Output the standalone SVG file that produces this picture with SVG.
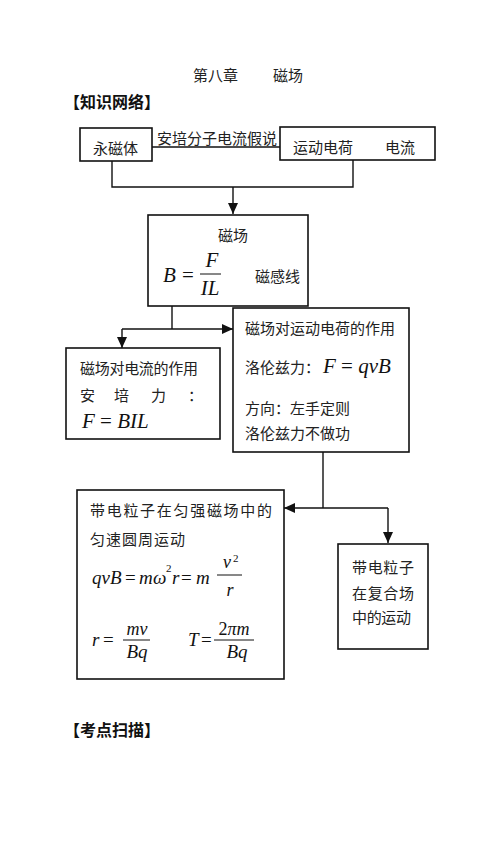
<svg xmlns="http://www.w3.org/2000/svg" width="500" height="857" viewBox="0 0 500 857">
<style>
.bg{fill:#fff}
.box{fill:#fff;stroke:#111;stroke-width:1.6}
.ln{fill:none;stroke:#111;stroke-width:1.4}
.cn{font-family:"Noto Sans CJK SC","Noto Sans",sans-serif;font-size:15px;fill:#222}
.hd{font-family:"Noto Sans CJK SC","Noto Sans",sans-serif;font-size:16px;font-weight:bold;fill:#111}
.m{font-family:"Liberation Serif","Times New Roman",serif;font-style:italic;fill:#111}
.u{font-family:"Liberation Serif","Times New Roman",serif;font-style:normal;fill:#111}
.fr{stroke:#111;stroke-width:1}
</style>
<defs>
<marker id="ah" markerUnits="userSpaceOnUse" markerWidth="11" markerHeight="10" refX="11" refY="5" orient="auto">
<path d="M0,0 L11,5 L0,10 z" fill="#111"/>
</marker>
</defs>
<rect class="bg" x="0" y="0" width="500" height="857"/>

<g id="title">
<text class="cn" x="193" y="81" font-size="16">第八章</text>
<text class="cn" x="273" y="81" font-size="16">磁场</text>
</g>
<g id="heading1"><text class="hd" x="64" y="108">【知识网络】</text></g>
<g id="heading2"><text class="hd" x="64" y="736">【考点扫描】</text></g>

<g id="connectors">
<path class="ln" d="M152,147 H280"/>
<path class="ln" d="M112,161 V187 H353 V160"/>
<path class="ln" d="M233,187 V214" marker-end="url(#ah)"/>
<path class="ln" d="M172,306 V329"/>
<path class="ln" d="M122,329 H233" marker-end="url(#ah)"/>
<path class="ln" d="M122,329 V348" marker-end="url(#ah)"/>
<path class="ln" d="M323,452 V508"/>
<path class="ln" d="M388,508 H284" marker-end="url(#ah)"/>
<path class="ln" d="M388,508 V543" marker-end="url(#ah)"/>
</g>

<g id="edge-label">
<text class="cn" x="157" y="144" textLength="120" lengthAdjust="spacing">安培分子电流假说</text>
</g>

<g id="node-magnet">
<rect class="box" x="80" y="128" width="72" height="33"/>
<text class="cn" x="93" y="154">永磁体</text>
</g>

<g id="node-charge">
<rect class="box" x="280" y="127" width="155" height="33"/>
<text class="cn" x="293" y="153">运动电荷</text>
<text class="cn" x="385" y="153">电流</text>
</g>

<g id="node-field">
<rect class="box" x="148" y="215" width="160" height="91"/>
<text class="cn" x="218" y="241">磁场</text>
<text class="m" x="163" y="282" font-size="21">B</text>
<text class="u" x="182" y="282" font-size="21">=</text>
<text class="m" x="212" y="267" font-size="21" text-anchor="middle">F</text>
<line class="fr" x1="200" y1="274" x2="221" y2="274"/>
<text class="m" x="210" y="295" font-size="21" text-anchor="middle">IL</text>
<text class="cn" x="255" y="282">磁感线</text>
</g>

<g id="node-lorentz">
<rect class="box" x="233" y="308" width="176" height="144"/>
<text class="cn" x="245" y="334" textLength="150" lengthAdjust="spacing">磁场对运动电荷的作用</text>
<text class="cn" x="245" y="373">洛伦兹力：</text>
<text class="m" x="323" y="373" font-size="21">F <tspan class="u">=</tspan> qvB</text>
<text class="cn" x="245" y="414">方向：左手定则</text>
<text class="cn" x="245" y="439">洛伦兹力不做功</text>
</g>

<g id="node-ampere">
<rect class="box" x="66" y="348" width="154" height="91"/>
<text class="cn" x="80" y="374" textLength="118" lengthAdjust="spacing">磁场对电流的作用</text>
<text class="cn" x="80 114 151 188" y="401">安培力：</text>
<text class="m" x="82" y="428" font-size="21">F <tspan class="u">=</tspan> BIL</text>
</g>

<g id="node-uniform">
<rect class="box" x="77" y="490" width="207" height="189"/>
<text class="cn" x="90" y="516" textLength="182" lengthAdjust="spacing">带电粒子在匀强磁场中的</text>
<text class="cn" x="90" y="545" textLength="95" lengthAdjust="spacing">匀速圆周运动</text>
<text class="m" x="92" y="584" font-size="19">qvB</text>
<text class="u" x="125" y="584" font-size="19">=</text>
<text class="m" x="139" y="584" font-size="19">m</text>
<text class="m" x="153" y="584" font-size="19">ω</text>
<text class="u" x="166" y="572" font-size="11">2</text>
<text class="m" x="172" y="584" font-size="19">r</text>
<text class="u" x="181" y="584" font-size="19">=</text>
<text class="m" x="196" y="584" font-size="19">m</text>
<text class="m" x="227" y="568" font-size="18" text-anchor="middle">v</text>
<text class="u" x="233" y="562" font-size="11">2</text>
<line class="fr" x1="217" y1="575" x2="242" y2="575"/>
<text class="m" x="230" y="596" font-size="18" text-anchor="middle">r</text>
<text class="m" x="92" y="646" font-size="19">r</text>
<text class="u" x="103" y="646" font-size="19">=</text>
<text class="m" x="137" y="635" font-size="18" text-anchor="middle">mv</text>
<line class="fr" x1="123" y1="640" x2="150" y2="640"/>
<text class="m" x="137" y="658" font-size="19" text-anchor="middle">Bq</text>
<text class="m" x="188" y="646" font-size="19">T</text>
<text class="u" x="201" y="646" font-size="19">=</text>
<text class="m" x="234" y="635" font-size="18" text-anchor="middle"><tspan class="u">2</tspan>πm</text>
<line class="fr" x1="214" y1="640" x2="254" y2="640"/>
<text class="m" x="237" y="658" font-size="19" text-anchor="middle">Bq</text>
</g>

<g id="node-combined">
<rect class="box" x="338" y="544" width="90" height="105"/>
<text class="cn" x="352" y="573" textLength="62" lengthAdjust="spacing">带电粒子</text>
<text class="cn" x="352" y="599" textLength="62" lengthAdjust="spacing">在复合场</text>
<text class="cn" x="352" y="623" textLength="59" lengthAdjust="spacing">中的运动</text>
</g>
</svg>
